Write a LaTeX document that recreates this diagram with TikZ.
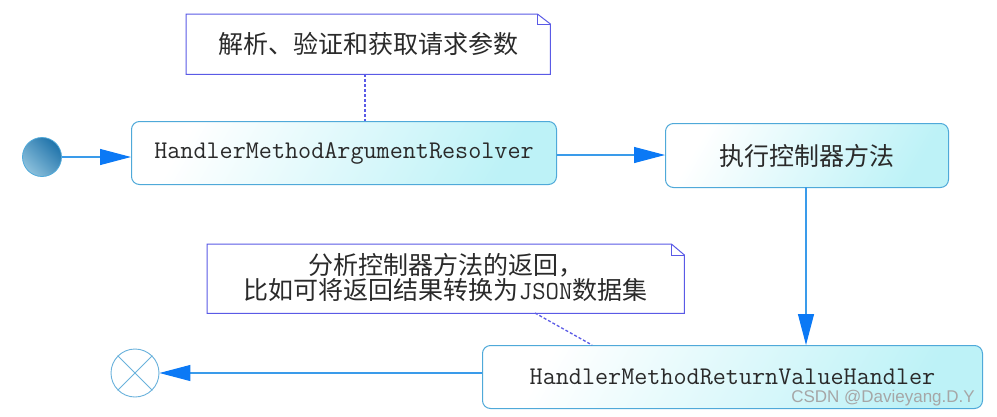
\documentclass[tikz,border=0pt]{standalone}
\usepackage{fontspec}
\newfontfamily\cjk{Noto Sans CJK SC}
\newfontfamily\wm{Liberation Sans}
\usetikzlibrary{arrows.meta}
\definecolor{boxline}{HTML}{4FA9D9}
\definecolor{boxfill}{HTML}{BDF2F7}
\definecolor{arrowline}{HTML}{3A9BEA}
\definecolor{arrowhead}{HTML}{0B79F5}
\definecolor{noteline}{HTML}{5A5AE6}
\definecolor{txt}{HTML}{2A2A2A}
\definecolor{balllight}{HTML}{8CC0DC}
\definecolor{balldark}{HTML}{1F73AA}
\definecolor{endline}{HTML}{6AB2DC}
\tikzset{
  actbox/.style={draw=boxline, line width=1pt, rounded corners=8pt,
    left color=white, right color=boxfill, shading angle=60,
    text=txt, inner sep=0pt, anchor=north west},
  flow/.style={draw=arrowline, line width=1.1pt,
    -{Triangle[length=31pt,width=16pt,color=arrowhead]}},
  notetext/.style={text=txt, inner sep=0pt, align=center},
  noteedge/.style={draw=noteline, line width=1pt},
  notelink/.style={draw=noteline, line width=1.3pt, dash pattern=on 3pt off 2pt},
}
\newcommand{\monolabel}[1]{\raisebox{-3pt}{\fontsize{25.4}{28}\ttfamily\addfontfeatures{FakeBold=0.4}#1}}
\begin{document}
\begin{tikzpicture}[x=1pt,y=-1pt]
\fill[white] (0,0) rectangle (997,416);
\useasboundingbox (0,0) rectangle (997,416);

% start node
\shade[left color=balllight, right color=balldark, shading angle=135, draw=boxline, line width=0.8pt]
  (42,157) circle (19.5);
\node[circle, minimum size=39pt, inner sep=0pt] (start) at (42,157) {};

% boxes
\node[actbox, minimum width=425pt, minimum height=63pt] (arg) at (131,121)
  {\monolabel{HandlerMethodArgumentResolver}};
\node[actbox, minimum width=283pt, minimum height=64pt] (exec) at (665,123)
  {\fontsize{25}{30}\cjk 执行控制器方法};
\node[actbox, minimum width=500pt, minimum height=63pt] (ret) at (482,345)
  {\monolabel{HandlerMethodReturnValueHandler}};

% end node
\node[circle, draw=endline, line width=0.9pt, fill=white, minimum size=48pt, inner sep=0pt] (end) at (135,373) {};
\draw[endline, line width=0.9pt] (end.north west) -- (end.south east);
\draw[endline, line width=0.9pt] (end.north east) -- (end.south west);

% notes
\node[minimum width=364pt, minimum height=60pt, inner sep=0pt, anchor=north west] (n1) at (186,14) {};
\draw[noteedge, fill=white] (n1.north west) -- ([xshift=-13pt]n1.north east) -- ([yshift=-10pt]n1.north east)
  -- (n1.south east) -- (n1.south west) -- cycle;
\draw[noteedge] ([xshift=-13pt]n1.north east) -- ([xshift=-13pt,yshift=-10pt]n1.north east) -- ([yshift=-10pt]n1.north east);
\node[notetext] (n1t) at (n1.center) {\fontsize{25}{30}\cjk 解析、验证和获取请求参数};

\node[minimum width=477pt, minimum height=69pt, inner sep=0pt, anchor=north west] (n2) at (207,244) {};
\draw[noteedge, fill=white] (n2.north west) -- ([xshift=-13pt]n2.north east) -- ([yshift=-11pt]n2.north east)
  -- (n2.south east) -- (n2.south west) -- cycle;
\draw[noteedge] ([xshift=-13pt]n2.north east) -- ([xshift=-13pt,yshift=-11pt]n2.north east) -- ([yshift=-11pt]n2.north east);
\node[notetext] (n2t) at ([yshift=1pt]n2.center) {\fontsize{25}{27.5}\cjk 分析控制器方法的返回，\\
  \fontsize{25}{27.5}\cjk 比如可将返回结果转换为{\fontsize{26}{27.5}\ttfamily\addfontfeatures{FakeBold=0.4}JSON}数据集};

% note links
\coordinate (n1a) at (365,74);
\coordinate (arga) at (365,121);
\draw[notelink] (n1a) -- (arga);
\coordinate (n2a) at (535,313);
\coordinate (reta) at (592,345);
\draw[notelink] (n2a) -- (reta);

% flows
\coordinate (execout) at (806,187);
\coordinate (retin) at (806,345);
\draw[flow] (start.east) -- (arg.west |- start.east);
\draw[flow] (arg.east |- 0,155) -- (exec.west |- 0,155);
\draw[flow] (execout) -- (retin);
\draw[flow] (ret.west |- end.east) -- (end.east);

% watermark
\node[text=black!35, inner sep=0pt, anchor=east] (wm) at (975,398) {\fontsize{17}{20}\wm CSDN @Davieyang.D.Y};
\end{tikzpicture}
\end{document}
